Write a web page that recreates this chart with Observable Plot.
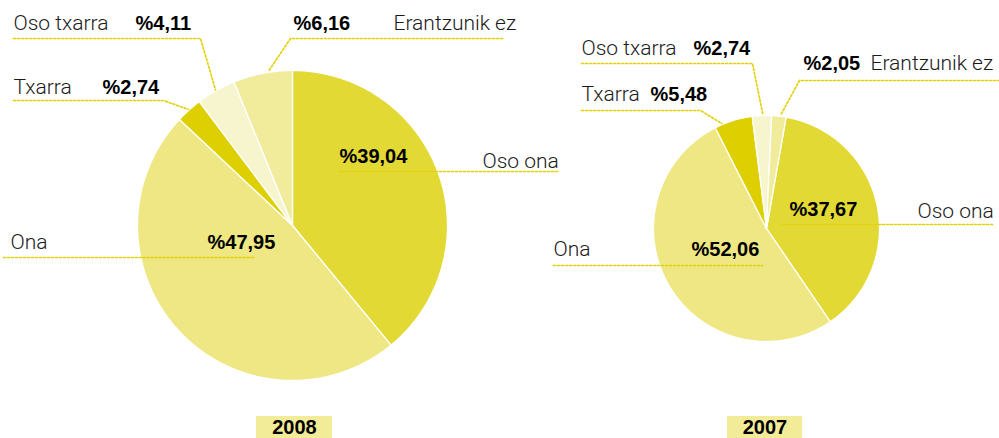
<!DOCTYPE html>
<html>
<head>
<meta charset="utf-8">
<script src="https://cdn.jsdelivr.net/npm/d3@7"></script>
<script src="https://cdn.jsdelivr.net/npm/@observablehq/plot@0.6"></script>
<style>
  html, body { margin: 0; padding: 0; background: #fff; }
  #chart { width: 999px; height: 438px; overflow: hidden; }
</style>
</head>
<body>
<div id="chart"></div>
<script>
// ---- data ----
const categories = ["Oso ona", "Ona", "Txarra", "Oso txarra", "Erantzunik ez"];
const values2008 = [39.04, 47.95, 2.74, 4.11, 6.16];
const values2007 = [37.67, 52.06, 5.48, 2.74, 2.05];
const years = ["2008", "2007"];
const colors = ["#e3d935", "#eee784", "#ded000", "#f7f5cd", "#f1eb9c"];

// ---- layout (pixel canvas) ----
const W = 999, H = 438;
const pies = [
  {year: "2008", values: values2008, cx: 292, cy: 225, r: 155, start: 0, box: [256, 332]},
  {year: "2007", values: values2007, cx: 766, cy: 228, r: 113, start: 10, box: [727, 802]}
];
// label placement per pie, in category order
const labelLayout = {
  "2008": [
    {name: [482, 167], value: [339, 162], line: [[339, 171], [558, 171]], arc: false},
    {name: [10, 248], value: [207, 248], line: [[3, 257], [255, 257]], arc: false},
    {name: [13, 93], value: [102, 93], line: [[13, 100], [163, 100]], arc: true, at: 0.5},
    {name: [13, 29], value: [135, 29], line: [[13, 38], [200, 38]], arc: true, at: 0.5},
    {name: [393, 29], value: [293, 29], line: [[502, 38], [290, 38]], arc: true, at: 0.6}
  ],
  "2007": [
    {name: [917, 217], value: [789, 215], line: [[782, 224], [992, 224]], arc: false},
    {name: [553, 255], value: [691, 255], line: [[553, 265], [762, 265]], arc: false},
    {name: [581, 100], value: [650, 100], line: [[581, 110], [700, 110]], arc: true, at: 0.2},
    {name: [581, 54], value: [693, 54], line: [[581, 63], [752, 63]], arc: true, at: 0.55},
    {name: [870, 69], value: [803, 69], line: [[999, 80], [799, 80]], arc: true, at: 0.6}
  ]
};

const fmt = v => "%" + d3.format(".2f")(v).replace(".", ",");
const pt = (p, deg, rr) => {
  const a = deg * Math.PI / 180;
  return {x: p.cx + rr * Math.sin(a), y: p.cy - rr * Math.cos(a)};
};

const slicePts = [], leaderPts = [], names = [], vals = [];
pies.forEach(p => {
  const total = d3.sum(p.values);
  let acc = p.start;
  p.values.forEach((v, i) => {
    const a0 = acc, a1 = acc + v / total * 360;
    acc = a1;
    const key = p.year + "-" + i;
    slicePts.push({key, cat: categories[i], x: p.cx, y: p.cy});
    const n = Math.max(2, Math.ceil((a1 - a0) / 0.5));
    for (let k = 0; k <= n; k++) {
      const q = pt(p, a0 + (a1 - a0) * k / n, p.r);
      slicePts.push({key, cat: categories[i], x: q.x, y: q.y});
    }
    slicePts.push({key, cat: categories[i], x: p.cx, y: p.cy});
    const L = labelLayout[p.year][i];
    L.line.forEach(([x, y]) => leaderPts.push({key, x, y}));
    if (L.arc) {
      const q = pt(p, a0 + (a1 - a0) * L.at, p.r + 1);
      leaderPts.push({key, x: q.x, y: q.y});
    }
    names.push({x: L.name[0], y: L.name[1], text: categories[i]});
    vals.push({x: L.value[0], y: L.value[1], text: fmt(v)});
  });
});
const yearLabels = pies.map((p, i) => ({year: years[i], x1: p.box[0], x2: p.box[1], xm: (p.box[0] + p.box[1]) / 2}));

const chart = Plot.plot({
  width: W, height: H,
  margin: 0,
  x: {domain: [0, W], range: [0, W], axis: null},
  y: {domain: [0, H], range: [0, H], axis: null},
  color: {domain: categories, range: colors},
  style: {background: "white", fontFamily: "Roboto, 'Liberation Sans', sans-serif"},
  marks: [
    Plot.line(slicePts, {x: "x", y: "y", z: "key", fill: "cat", stroke: "white", strokeWidth: 1.3, strokeLinejoin: "round", curve: "linear"}),
    Plot.line(leaderPts, {x: "x", y: "y", z: "key", stroke: "#e4d10e", strokeWidth: 1.7, strokeDasharray: "2,2", curve: "linear"}),
    Plot.text(names, {x: "x", y: "y", text: "text", textAnchor: "start", lineAnchor: "bottom", fontSize: 21, fontWeight: 300, fill: "#1a1a1a"}),
    Plot.text(vals, {x: "x", y: "y", text: "text", textAnchor: "start", lineAnchor: "bottom", fontSize: 20, fontWeight: 700, fill: "#000", fontFamily: "'Liberation Sans', Arial, sans-serif"}),
    Plot.rect(yearLabels, {x1: "x1", x2: "x2", y1: 416, y2: 438, fill: "#f2eb98"}),
    Plot.text(yearLabels, {x: "xm", y: 433, text: "year", textAnchor: "middle", lineAnchor: "bottom", fontSize: 20, fontWeight: 700, fill: "#000", fontFamily: "'Liberation Sans', Arial, sans-serif"})
  ]
});
document.getElementById("chart").appendChild(chart);
</script>
</body>
</html>
